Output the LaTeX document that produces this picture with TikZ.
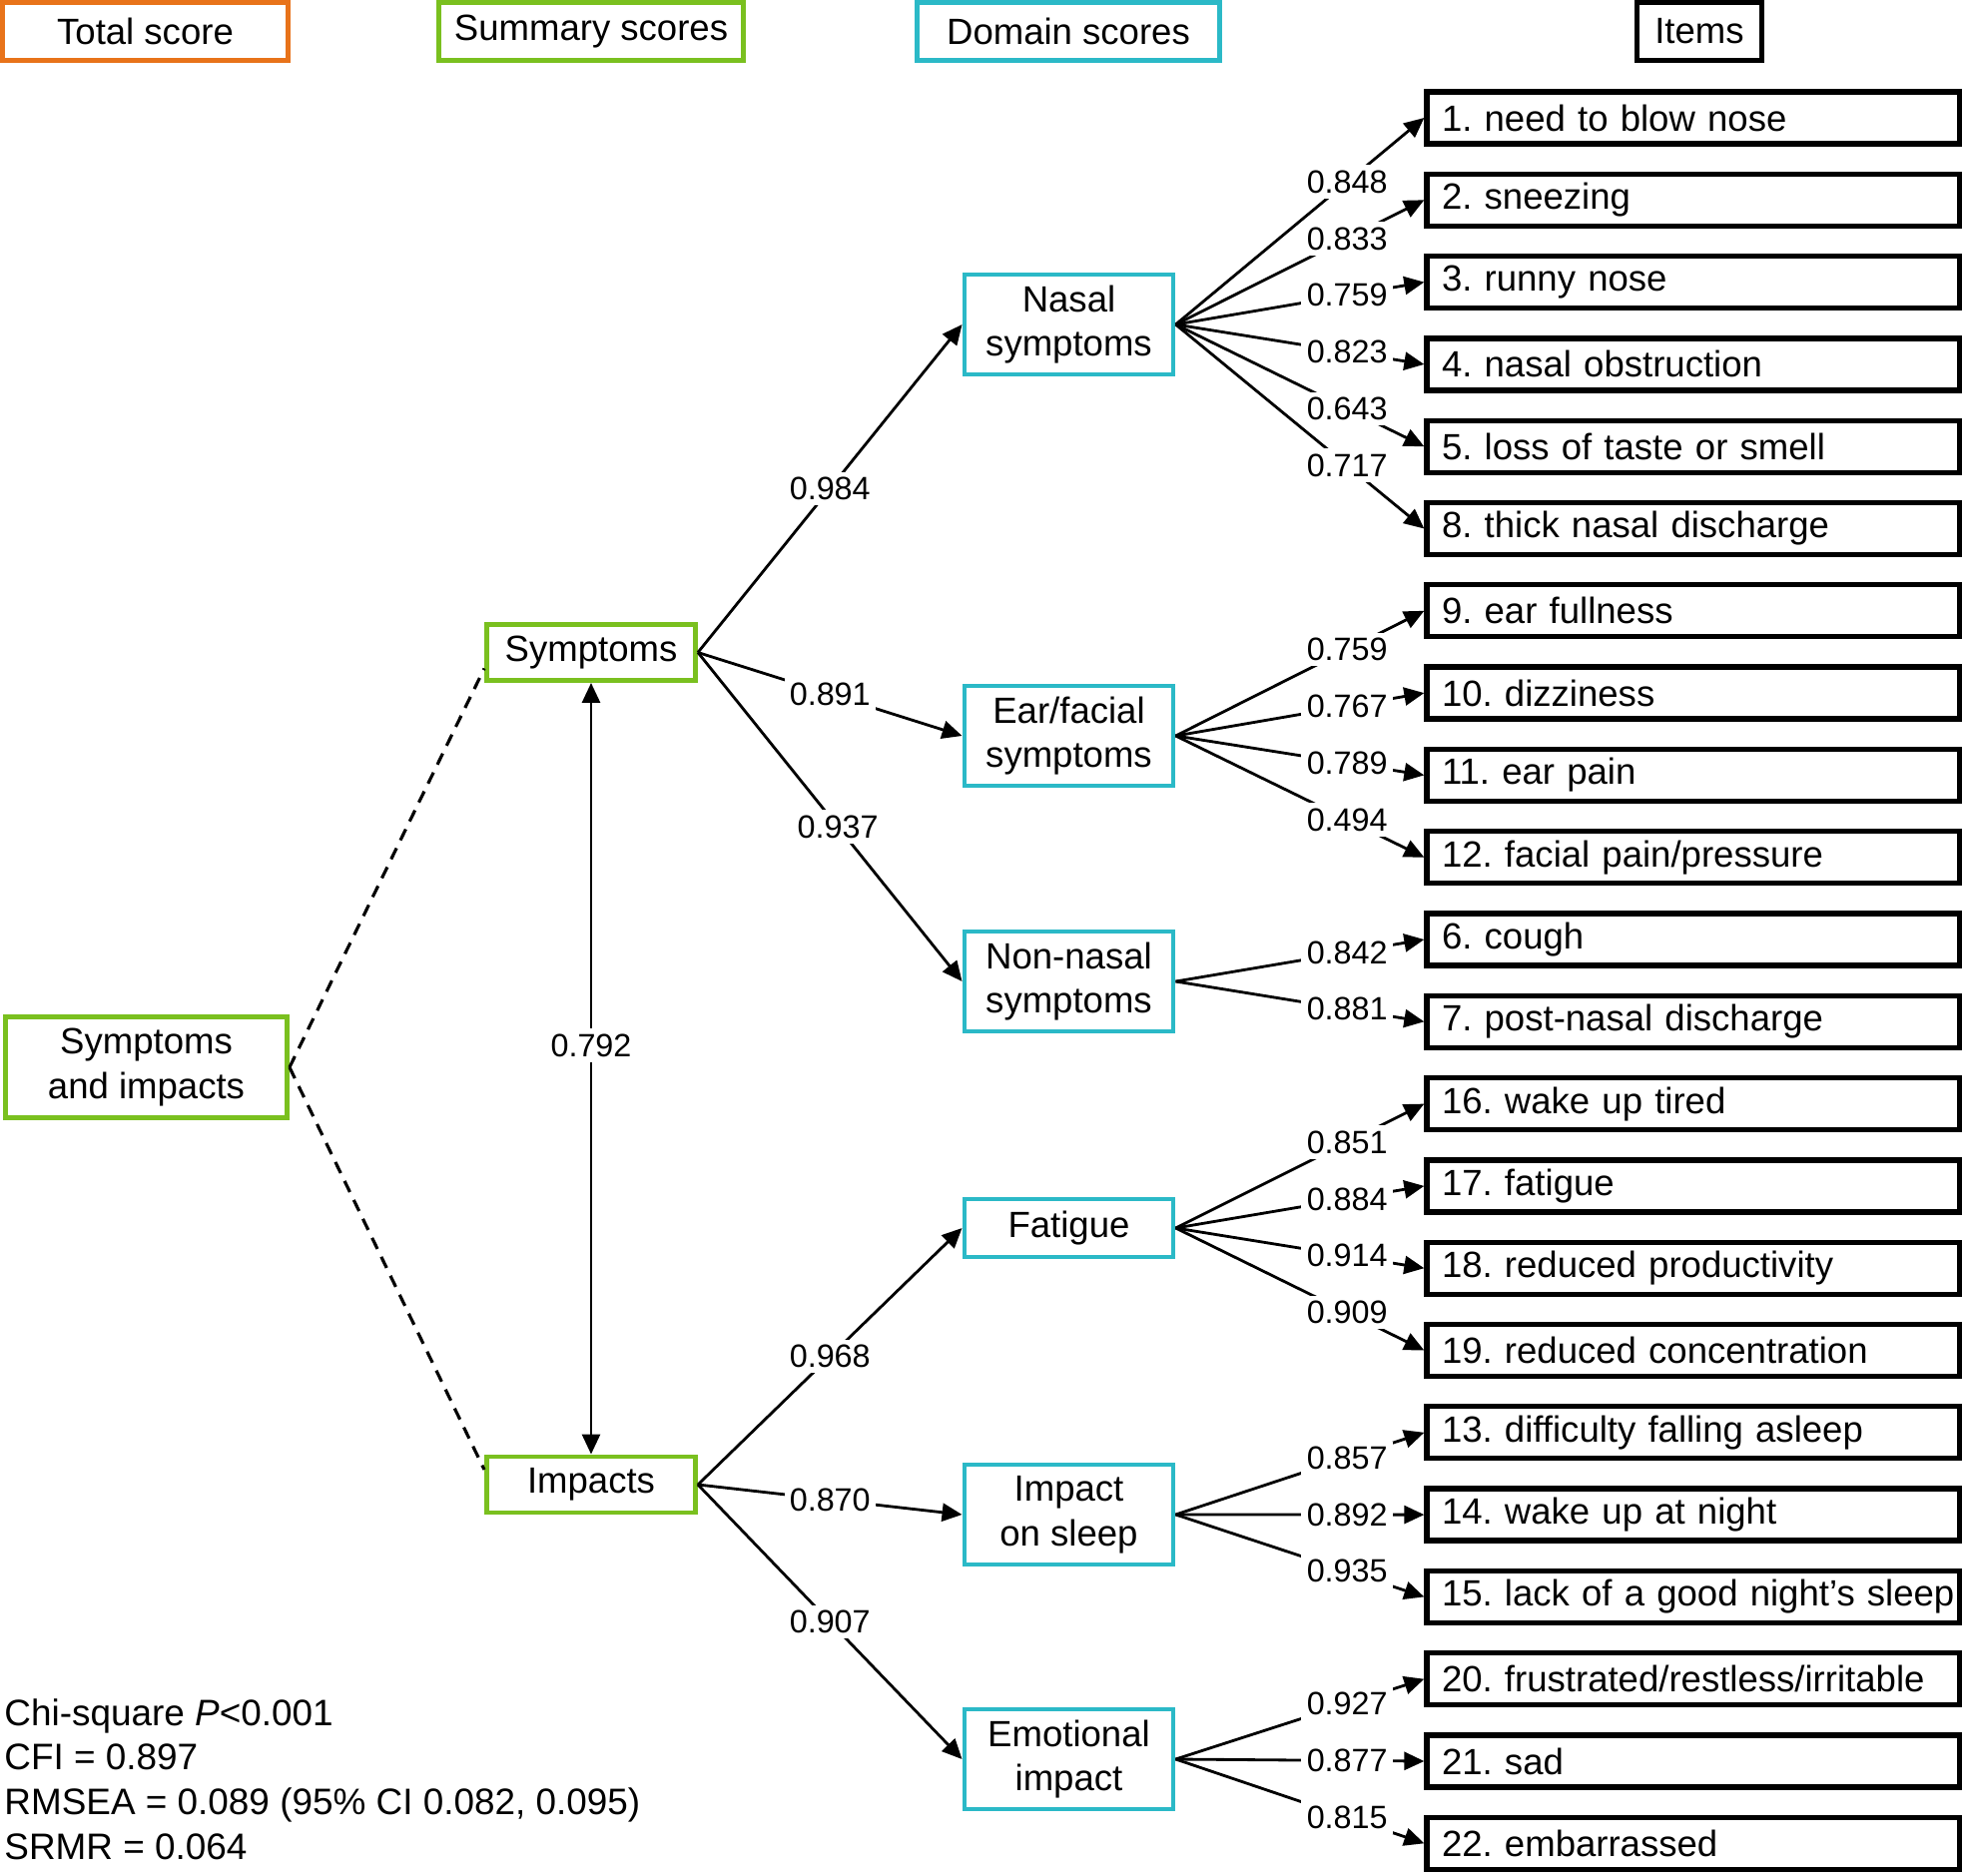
\documentclass[tikz,border=0pt]{standalone}
\usepackage{fontspec}
\setmainfont{Liberation Sans}
\usetikzlibrary{arrows.meta,positioning}
\definecolor{totorange}{RGB}{232,115,26}
\definecolor{sumgreen}{RGB}{122,192,31}
\definecolor{domteal}{RGB}{43,185,199}
\frenchspacing

\begin{document}
\begin{tikzpicture}[>={Triangle[length=2mm,width=1.8mm]},line width=0.8pt,
  every node/.style={font=\fontsize{10.4}{12.7}\selectfont},
  box/.style={draw,line width=1.4pt,align=center,inner sep=0pt},
  tot/.style={box,draw=totorange},
  summ/.style={box,draw=sumgreen},
  dom/.style={box,draw=domteal,minimum width=2.09cm,minimum height=1.0cm},
  item/.style={box,draw=black,line width=1.5pt,text width=5.04cm,inner xsep=0.15cm,
    minimum height=0.52cm,align=left},
  wt/.style={fill=white,inner sep=1.5pt,font=\fontsize{9.2}{11}\selectfont},
  on grid,node distance=0.823cm]
  \useasboundingbox (0,0) rectangle (19.65,-18.79);

  % column headers
  \path
  node[tot,minimum width=2.86cm,minimum height=0.58cm] (hTot) at (1.455,-0.315) {Total score}
  node[summ,minimum width=3.05cm,minimum height=0.58cm] (hSum) at (5.92,-0.315) {Summary scores}
  node[box,draw=domteal,minimum width=3.03cm,minimum height=0.58cm] (hDom) at (10.70,-0.315) {Domain scores}
  node[box,minimum width=1.25cm,minimum height=0.58cm] (hItem) at (17.02,-0.315) {Items}
  ;

  % total and summary scores
  \path
  node[summ,minimum width=2.82cm,minimum height=1.01cm] (sai) at (1.465,-10.69) {Symptoms\\and impacts}
  node[summ,minimum width=2.09cm,minimum height=0.56cm] (symp) at (5.92,-6.535) {Symptoms}
  node[summ,minimum width=2.09cm,minimum height=0.56cm] (imp) at (5.92,-14.87) {Impacts}
  ;

  % domain scores
  \path
  node[dom] (nas) at (10.705,-3.25) {Nasal\\symptoms}
  node[dom] (ear) at (10.705,-7.37) {Ear/facial\\symptoms}
  node[dom] (non) at (10.705,-9.83) {Non-nasal\\symptoms}
  node[dom,minimum height=0.58cm] (fat) at (10.705,-12.30) {Fatigue}
  node[dom] (slp) at (10.705,-15.17) {Impact\\on sleep}
  node[dom] (emo) at (10.705,-17.62) {Emotional\\impact}
  ;

  % items
  \path
  node[item] (i1) at (16.96,-1.18) {1. need to blow nose}
  node[item,below=of i1] (i2) {2. sneezing}
  node[item,below=of i2] (i3) {3. runny nose}
  node[item,below=of i3] (i4) {4. nasal obstruction}
  node[item,below=of i4] (i5) {5. loss of taste or smell}
  node[item,below=of i5] (i8) {8. thick nasal discharge}
  node[item,below=of i8] (i9) {9. ear fullness}
  node[item,below=of i9] (i10) {10. dizziness}
  node[item,below=of i10] (i11) {11. ear pain}
  node[item,below=of i11] (i12) {12. facial pain/pressure}
  node[item,below=of i12] (i6) {6. cough}
  node[item,below=of i6] (i7) {7. post-nasal discharge}
  node[item,below=of i7] (i16) {16. wake up tired}
  node[item,below=of i16] (i17) {17. fatigue}
  node[item,below=of i17] (i18) {18. reduced productivity}
  node[item,below=of i18] (i19) {19. reduced concentration}
  node[item,below=of i19] (i13) {13. difficulty falling asleep}
  node[item,below=of i13] (i14) {14. wake up at night}
  node[item,below=of i14] (i15) {\mbox{15. lack of a good night’s sleep}}
  node[item,below=of i15] (i20) {20. frustrated/restless/irritable}
  node[item,below=of i20] (i21) {21. sad}
  node[item,below=of i21] (i22) {22. embarrassed}
  ;

  % fit indices
  \node[anchor=south west,align=left,inner sep=0pt,font=\fontsize{10.5}{12.7}\selectfont]
    (fit) at (0.03,-18.64)
    {Chi-square \textit{P}<0.001\\CFI = 0.897\\RMSEA = 0.089 (95\% CI 0.082, 0.095)\\SRMR = 0.064};

  % total score to summary scores
  \path[dash pattern=on 3.5pt off 2.5pt,line width=0.9pt]
  (sai.east) edge ([yshift=-0.16cm]symp.west)
  (sai.east) edge ([yshift=0.15cm]imp.west)
  ;
  \path[<->]
  (symp.south) edge node[wt,pos=.47] {0.792} (imp.north)
  ;

  % summary scores to domains
  \path[->]
  (symp.east) edge node[wt] {0.984} (nas.west)
  (symp.east) edge node[wt] {0.891} (ear.west)
  (symp.east) edge node[wt,pos=.53] {0.937} (non.west)
  (imp.east) edge node[wt] {0.968} (fat.west)
  (imp.east) edge node[wt] {0.870} (slp.west)
  (imp.east) edge node[wt] {0.907} (emo.west)
  ;

  % domains to items
  \path[->,every node/.append style={wt,pos=.69}]
  (nas.east) edge node {0.848} (i1.west)
  (nas.east) edge node {0.833} (i2.west)
  (nas.east) edge node {0.759} (i3.west)
  (nas.east) edge node {0.823} (i4.west)
  (nas.east) edge node {0.643} (i5.west)
  (nas.east) edge node {0.717} (i8.west)
  (ear.east) edge node {0.759} (i9.west)
  (ear.east) edge node {0.767} (i10.west)
  (ear.east) edge node {0.789} (i11.west)
  (ear.east) edge node {0.494} (i12.west)
  (non.east) edge node {0.842} (i6.west)
  (non.east) edge node {0.881} (i7.west)
  (fat.east) edge node {0.851} (i16.west)
  (fat.east) edge node {0.884} (i17.west)
  (fat.east) edge node {0.914} (i18.west)
  (fat.east) edge node {0.909} (i19.west)
  (slp.east) edge node {0.857} (i13.west)
  (slp.east) edge node {0.892} (i14.west)
  (slp.east) edge node {0.935} (i15.west)
  (emo.east) edge node {0.927} (i20.west)
  (emo.east) edge node {0.877} (i21.west)
  (emo.east) edge node {0.815} (i22.west)
  ;
\end{tikzpicture}
\end{document}
